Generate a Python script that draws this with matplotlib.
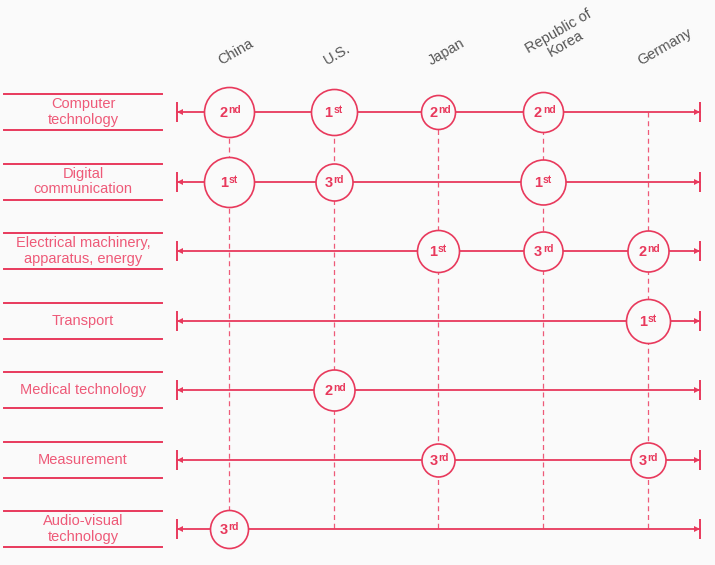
import matplotlib
matplotlib.use("Agg")
import matplotlib.pyplot as plt

plt.rcParams['font.family'] = ['Liberation Sans', 'DejaVu Sans']

# ---- data ----
countries = ["China", "U.S.", "Japan", "Republic of\nKorea", "Germany"]
fields = ["Computer\ntechnology", "Digital\ncommunication",
          "Electrical machinery,\napparatus, energy", "Transport",
          "Medical technology", "Measurement", "Audio-visual\ntechnology"]

# rank of each country per field (0 = not in top 3)
ranks = [
    [2, 1, 2, 2, 0],
    [1, 3, 0, 1, 0],
    [0, 0, 1, 3, 2],
    [0, 0, 0, 0, 1],
    [0, 2, 0, 0, 0],
    [0, 0, 3, 0, 3],
    [3, 0, 0, 0, 0],
]
# bubble radius (px) as drawn
radii = [
    [25, 23, 17, 20, 0],
    [25, 18.5, 0, 22.5, 0],
    [0, 0, 21, 19.5, 20.5],
    [0, 0, 0, 0, 22],
    [0, 20.5, 0, 0, 0],
    [0, 0, 16.5, 0, 17.5],
    [19, 0, 0, 0, 0],
]
suffix = {1: "st", 2: "nd", 3: "rd"}

RED = "#e8395c"
LIGHT = "#ee5a78"
BG = "#fafafa"

fig = plt.figure(figsize=(7.15, 5.65), dpi=100, facecolor=BG)
ax = fig.add_axes([0, 0, 1, 1])
ax.set_facecolor(BG)
ax.set_xlim(-2.186, 4.64)
ax.set_ylim(6.518, -1.612)
ax.axis("off")

n_rows = len(fields)
n_cols = len(countries)

# dashed column guides
for j in range(n_cols):
    ax.plot([j, j], [0, n_rows - 1], color=LIGHT, lw=0.9, ls=(0, (4, 3)), zorder=1)

# rows: label box lines, axis line with arrows
for i, name in enumerate(fields):
    for dy in (-0.259, 0.259):
        ax.plot([-2.148, -0.64], [i + dy, i + dy], color=RED, lw=1.4, zorder=2)
    ax.text(-1.394, i, name, ha="center", va="center", fontsize=10.5,
            color=LIGHT, linespacing=1.15)
    ax.plot([-0.5, 4.5], [i, i], color=RED, lw=1.3, zorder=2)
    ax.plot([-0.5, 4.5], [i, i], ls="none", marker="|", ms=15, mew=1.4,
            color=RED, zorder=3)
    ax.plot([-0.47], [i], marker="<", ms=4, color=RED, mew=0, zorder=3)
    ax.plot([4.47], [i], marker=">", ms=4, color=RED, mew=0, zorder=3)

# bubbles
for i in range(n_rows):
    for j in range(n_cols):
        r = ranks[i][j]
        if r == 0:
            continue
        d_pt = 2 * radii[i][j] * 0.72
        ax.scatter([j], [i], s=d_pt ** 2, facecolor=BG, edgecolor=RED,
                   linewidth=1.2, zorder=4)
        ax.annotate(str(r), (j, i), xytext=(-0.8, -3.8), textcoords="offset points",
                    ha="right", va="baseline", fontsize=10.5, fontweight="bold",
                    color=RED, zorder=5)
        ax.annotate(suffix[r], (j, i), xytext=(-0.3, -0.9), textcoords="offset points",
                    ha="left", va="baseline", fontsize=7.5, fontweight="bold",
                    color=RED, zorder=5)

# country headers
for j, c in enumerate(countries):
    ax.text(j - 0.07, -0.67, c, rotation=30, rotation_mode="anchor",
            ha="left", va="baseline", fontsize=10.5, color="#555555",
            multialignment="center", linespacing=1.0)

fig.savefig("out.png", dpi=100, facecolor=BG)
